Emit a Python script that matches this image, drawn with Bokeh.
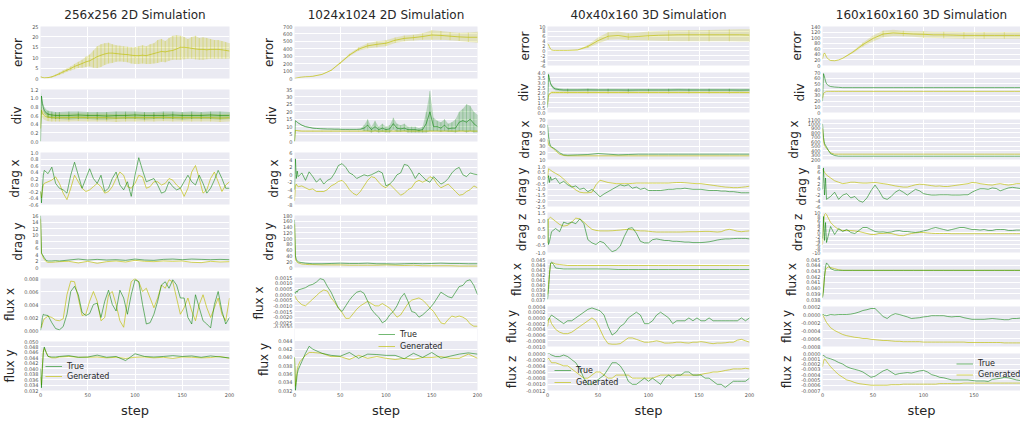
from bokeh.plotting import figure
from bokeh.models import Range1d, FixedTicker, PrintfTickFormatter, Legend, LegendItem, BoxAnnotation
from bokeh.layouts import row, column
from bokeh.core.properties import value
from bokeh.embed import file_html
from bokeh.resources import INLINE

# ---------------- step grids ----------------
XF = [0, 1, 2, 3] + list(range(4, 201, 4))                  # 54 steps (fine)
XC = [0, 1, 2, 3, 4, 6, 8, 12, 16] + list(range(20, 201, 10))  # 28 steps (coarse)
STEP_TICKS = [0, 50, 100, 150, 200]

TITLES = ["256x256 2D Simulation", "1024x1024 2D Simulation",
          "40x40x160 3D Simulation", "160x160x160 3D Simulation"]

# ---------------- column 1 : 256x256 2D ----------------
c1_err_ticks = [0, 5, 10, 15, 20, 25]
c1_err = [0.8, 0.7, 0.5, 0.4,
          0.3, 0.4, 0.8, 1.5, 2.3, 3.2, 4.0, 4.8, 5.8, 6.5,
          7.2, 8.0, 8.5, 9.5, 10.5, 11.2, 11.8, 12.2, 12.2, 12.0,
          11.8, 11.6, 11.5, 11.2, 11.0, 11.0, 11.2, 11.0, 11.5, 12.0,
          12.5, 13.0, 12.8, 13.2, 13.5, 14.2, 15.0, 15.0, 14.8, 14.5,
          14.2, 14.0, 14.0, 13.8, 14.0, 14.0, 14.0, 13.8, 13.5, 13.2]
c1_err_lo = [0.6, 0.5, 0.3, 0.2,
             0.1, 0.2, 0.5, 1.1, 1.7, 2.4, 3.2, 3.8, 4.5, 5.0,
             5.2, 5.5, 5.8, 5.2, 5.0, 5.5, 6.5, 7.2, 7.5, 8.0,
             8.2, 8.0, 7.8, 7.2, 7.0, 7.0, 7.2, 7.0, 7.0, 7.2,
             7.5, 8.0, 7.8, 8.5, 9.0, 9.0, 9.0, 9.2, 9.5, 9.5,
             9.2, 9.0, 9.0, 9.3, 9.5, 9.5, 9.5, 9.5, 9.5, 9.5]
c1_err_hi = [1.0, 0.9, 0.7, 0.6,
             0.5, 0.6, 1.1, 1.9, 2.9, 4.0, 4.8, 5.8, 7.0, 8.0,
             9.0, 10.5, 11.5, 13.5, 15.5, 16.5, 17.0, 17.2, 16.5, 16.0,
             15.8, 15.5, 15.3, 15.0, 15.0, 15.5, 16.0, 15.5, 16.5, 17.0,
             18.5, 19.0, 18.0, 19.5, 20.5, 20.8, 20.5, 20.0, 19.0, 20.0,
             20.5, 19.5, 19.8, 19.5, 19.0, 18.5, 18.5, 18.0, 17.5, 17.0]

c1_div_ticks = [0.0, 0.2, 0.4, 0.6, 0.8, 1.0, 1.2]
c1_div_true = [0.0, 1.05, 0.88, 0.78, 0.72, 0.66, 0.63, 0.61, 0.60,
               0.60, 0.60, 0.61, 0.60, 0.60, 0.59, 0.60, 0.60, 0.61, 0.60,
               0.60, 0.60, 0.61, 0.60, 0.60, 0.60, 0.61, 0.60, 0.60]
c1_div_true_lo = [0.0, 0.95, 0.80, 0.70, 0.64, 0.58, 0.55, 0.53, 0.52,
                  0.52, 0.51, 0.52, 0.52, 0.51, 0.51, 0.52, 0.52, 0.52, 0.51,
                  0.52, 0.52, 0.52, 0.51, 0.52, 0.52, 0.52, 0.51, 0.52]
c1_div_true_hi = [0.0, 1.15, 0.96, 0.86, 0.80, 0.74, 0.71, 0.69, 0.68,
                  0.68, 0.69, 0.69, 0.68, 0.68, 0.68, 0.69, 0.69, 0.69, 0.68,
                  0.68, 0.69, 0.69, 0.68, 0.69, 0.68, 0.69, 0.69, 0.68]
c1_div_gen = [0.30, 0.72, 0.66, 0.62, 0.60, 0.57, 0.56, 0.55, 0.55,
              0.55, 0.55, 0.56, 0.55, 0.55, 0.55, 0.54, 0.55, 0.55, 0.55,
              0.55, 0.56, 0.55, 0.55, 0.55, 0.55, 0.55, 0.54, 0.55]
c1_div_gen_lo = [0.20, 0.62, 0.56, 0.52, 0.50, 0.48, 0.47, 0.46, 0.46,
                 0.46, 0.46, 0.47, 0.46, 0.46, 0.46, 0.45, 0.46, 0.46, 0.46,
                 0.46, 0.47, 0.46, 0.46, 0.46, 0.46, 0.46, 0.45, 0.46]
c1_div_gen_hi = [0.40, 0.82, 0.76, 0.72, 0.70, 0.66, 0.65, 0.64, 0.64,
                 0.64, 0.64, 0.65, 0.64, 0.64, 0.64, 0.63, 0.64, 0.64, 0.64,
                 0.64, 0.65, 0.64, 0.64, 0.64, 0.64, 0.64, 0.63, 0.64]

c1_dragx_ticks = [-0.6, -0.4, -0.2, 0.0, 0.2, 0.4, 0.6, 0.8, 1.0]
c1_dragx_true = [-0.20, -0.55, -0.10, 0.30,
                 0.45, 0.35, 0.55, 0.05, -0.10, -0.15, -0.25, 0.30, 0.70, 0.30,
                 -0.10, 0.20, 0.50, 0.20, 0.05, 0.30, -0.20, -0.10, 0.20, 0.40,
                 0.00, -0.15, 0.10, -0.35, 0.30, 0.84, 0.45, 0.10, 0.15, 0.20,
                 0.00, -0.25, -0.20, 0.10, -0.05, -0.15, -0.10, 0.10, 0.30, 0.10,
                 0.00, 0.30, 0.05, -0.25, -0.10, 0.15, 0.45, 0.20, -0.10, -0.10]
c1_dragx_gen = [-0.20, -0.40, -0.15, 0.00,
                0.05, 0.10, 0.15, 0.25, 0.05, -0.25, -0.45, -0.10, 0.30, 0.10,
                -0.10, -0.20, -0.15, -0.05, 0.05, -0.05, -0.25, -0.20, -0.05, 0.20,
                0.40, 0.30, -0.05, -0.10, 0.05, 0.30, 0.25, -0.10, -0.05, 0.10,
                0.10, 0.00, 0.05, 0.20, 0.15, 0.00, -0.10, -0.35, -0.10, 0.40,
                0.60, 0.20, -0.25, -0.15, 0.20, 0.40, 0.10, -0.20, 0.00, 0.10]

c1_dragy_ticks = [0, 2, 4, 6, 8, 10, 12, 14, 16]
c1_dragy_true = [16.0, 4.5, 4.0, 3.5, 3.0, 2.2, 2.0, 2.0, 2.1,
                 2.0, 2.3, 2.6, 2.3, 2.5, 2.3, 2.4, 2.2, 2.6, 2.3,
                 2.2, 2.5, 2.6, 2.4, 2.6, 2.5, 2.4, 2.5, 2.4]
c1_dragy_gen = [15.0, 4.2, 3.8, 3.0, 2.5, 1.8, 1.6, 1.6, 1.7,
                1.8, 1.9, 1.4, 1.9, 1.3, 1.8, 2.0, 1.7, 2.2, 1.9,
                1.8, 2.0, 1.9, 2.0, 1.6, 1.5, 1.9, 1.7, 1.8]

c1_fluxx_ticks = [0.000, 0.002, 0.004, 0.006, 0.008]
c1_fluxx_true = [0.0000, 0.0008, 0.0020, 0.0025,
                 0.0024, 0.0023, 0.0012, 0.0003, 0.0001, 0.0006, 0.0025, 0.0060, 0.0068, 0.0055,
                 0.0028, 0.0023, 0.0026, 0.0040, 0.0042, 0.0020, 0.0045, 0.0062, 0.0040, 0.0030,
                 0.0062, 0.0050, 0.0025, 0.0055, 0.0078, 0.0075, 0.0040, 0.0010, 0.0012, 0.0025,
                 0.0045, 0.0070, 0.0075, 0.0065, 0.0078, 0.0070, 0.0050, 0.0050, 0.0020, 0.0010,
                 0.0055, 0.0035, 0.0015, 0.0010, 0.0004, 0.0040, 0.0060, 0.0030, 0.0010, 0.0020]
c1_fluxx_gen = [0.0005, 0.0005, 0.0010, 0.0015,
                0.0018, 0.0022, 0.0020, 0.0016, 0.0015, 0.0018, 0.0055, 0.0076, 0.0075, 0.0050,
                0.0023, 0.0025, 0.0045, 0.0060, 0.0045, 0.0015, 0.0020, 0.0055, 0.0060, 0.0040,
                0.0015, 0.0005, 0.0045, 0.0075, 0.0080, 0.0075, 0.0060, 0.0065, 0.0050, 0.0035,
                0.0050, 0.0070, 0.0065, 0.0078, 0.0075, 0.0050, 0.0025, 0.0035, 0.0050, 0.0030,
                0.0015, 0.0040, 0.0055, 0.0035, 0.0020, 0.0035, 0.0050, 0.0025, 0.0015, 0.0050]

c1_fluxy_ticks = [0.032, 0.034, 0.036, 0.038, 0.040, 0.042, 0.044, 0.046, 0.048, 0.050]
c1_fluxy_true = [0.0400, 0.0330, 0.0400, 0.0460, 0.0480, 0.0460, 0.0445, 0.0443, 0.0443,
                 0.0445, 0.0448, 0.0442, 0.0443, 0.0450, 0.0442, 0.0445, 0.0430, 0.0455, 0.0445,
                 0.0443, 0.0445, 0.0448, 0.0445, 0.0447, 0.0442, 0.0447, 0.0443, 0.0440]
c1_fluxy_gen = [0.0370, 0.0340, 0.0410, 0.0465, 0.0475, 0.0460, 0.0445, 0.0440, 0.0440,
                0.0443, 0.0445, 0.0442, 0.0442, 0.0443, 0.0440, 0.0442, 0.0438, 0.0442, 0.0443,
                0.0440, 0.0442, 0.0438, 0.0443, 0.0442, 0.0440, 0.0441, 0.0445, 0.0438]

# ---------------- column 2 : 1024x1024 2D ----------------
c2_err_ticks = [0, 100, 200, 300, 400, 500, 600, 700]
c2_err = [0, 3, 6, 9, 12, 16, 19, 24, 26,
          30, 55, 110, 210, 315, 395, 440, 460, 475, 515,
          540, 550, 565, 585, 580, 570, 560, 555, 555]
c2_err_lo = [0, 3, 6, 9, 12, 16, 19, 24, 26,
             28, 52, 104, 198, 298, 372, 405, 420, 435, 478,
             502, 512, 522, 522, 520, 515, 505, 492, 480]
c2_err_hi = [0, 3, 6, 9, 12, 16, 19, 24, 26,
             32, 58, 116, 222, 332, 418, 475, 500, 515, 552,
             578, 588, 608, 648, 640, 625, 615, 618, 630]

c2_div_ticks = [0, 5, 10, 15, 20, 25, 30, 35]
c2_div_true = [0.0, 14.0, 13.5, 13.0,
               12.5, 11.0, 10.0, 9.5, 9.0, 8.8, 8.6, 8.5, 8.4, 8.4,
               8.3, 8.3, 8.2, 8.2, 8.2, 8.2, 8.2, 8.3, 9.0, 11.0,
               8.0, 10.0, 8.0, 9.0, 8.0, 8.5, 12.0, 9.0, 8.5, 9.0,
               8.0, 8.0, 8.0, 7.5, 8.0, 12.0, 20.0, 10.0, 10.0, 9.0,
               11.0, 8.5, 9.0, 9.0, 13.0, 14.0, 13.0, 15.0, 12.0, 10.0]
c2_div_true_lo = [0.0, 13.8, 13.3, 12.8,
                  12.3, 10.8, 9.8, 9.3, 8.8, 8.6, 8.4, 8.3, 8.2, 8.2,
                  8.1, 8.1, 8.0, 8.0, 8.0, 8.0, 8.0, 8.1, 7.0, 7.0,
                  6.0, 7.0, 6.0, 6.5, 6.0, 6.0, 8.0, 6.5, 6.5, 7.0,
                  6.0, 6.0, 6.0, 6.0, 6.0, 6.0, 7.0, 7.0, 7.0, 6.5,
                  7.0, 6.5, 6.5, 6.0, 7.0, 7.0, 6.0, 7.0, 6.0, 6.0]
c2_div_true_hi = [0.0, 14.2, 13.7, 13.2,
                  12.7, 11.2, 10.2, 9.7, 9.2, 9.0, 8.8, 8.7, 8.6, 8.6,
                  8.5, 8.5, 8.4, 8.4, 8.4, 8.4, 8.4, 8.5, 11.0, 15.0,
                  10.0, 14.0, 10.0, 12.0, 10.0, 11.0, 16.0, 12.0, 11.0, 12.0,
                  10.0, 10.0, 10.0, 9.0, 10.0, 20.0, 34.0, 16.0, 14.0, 13.0,
                  15.0, 12.0, 13.0, 15.0, 20.0, 22.0, 25.0, 24.0, 20.0, 18.0]
c2_div_gen = [0.0, 7.5, 7.4, 7.3, 7.2, 7.1, 7.0, 7.0, 7.0,
              7.0, 7.0, 7.0, 7.0, 7.0, 7.0, 7.0, 7.0, 7.0, 7.0,
              7.0, 7.0, 7.0, 7.0, 7.0, 7.0, 7.0, 7.0, 7.0]
c2_div_gen_lo = [0.0, 7.2, 7.1, 7.0, 6.9, 6.8, 6.7, 6.7, 6.7,
                 6.7, 6.7, 6.7, 6.7, 6.7, 6.7, 6.7, 6.7, 6.7, 6.7,
                 6.7, 6.7, 6.7, 6.7, 6.7, 6.7, 6.7, 6.7, 6.7]
c2_div_gen_hi = [0.0, 7.8, 7.7, 7.6, 7.5, 7.4, 7.3, 7.3, 7.3,
                 7.3, 7.3, 7.3, 7.3, 7.3, 7.3, 7.3, 7.3, 7.3, 7.3,
                 7.3, 7.3, 7.3, 7.3, 7.3, 7.3, 7.3, 7.3, 7.3]

c2_dragx_ticks = [-8, -6, -4, -2, 0, 2, 4, 6]
c2_dragx_true = [-4.0, 4.3, -1.0, 1.0,
                 -0.5, 0.5, -1.5, 0.8, -0.5, -2.0, -1.0, -2.5, -1.5, -1.0,
                 0.5, 2.5, 3.0, 2.0, 0.5, 0.0, -1.0, -0.5, 0.0, -0.3,
                 0.0, 0.5, 1.0, 0.5, -3.0, -2.5, -1.5, 0.0, 0.5, 2.8,
                 2.5, 1.0, -1.0, 0.5, -0.5, -1.5, -2.0, -0.5, -1.5, -2.5,
                 -2.0, -1.0, 0.5, 1.5, 2.0, 0.0, -0.5, 0.5, 0.2, 0.0]
c2_dragx_gen = [-7.0, -3.0, -2.5, -3.0,
                -3.2, -3.0, -3.5, -4.0, -3.8, -4.5, -4.5, -4.5, -4.0, -3.0,
                -2.5, -1.8, -1.5, -2.5, -4.0, -5.0, -5.5, -4.5, -3.0, -1.5,
                -0.5, -0.8, -2.0, -3.0, -3.5, -2.5, -3.5, -4.5, -5.5, -5.0,
                -4.0, -3.5, -2.0, -1.5, -2.0, -1.5, -0.5, -1.0, -2.5, -3.5,
                -3.0, -2.5, -3.5, -4.5, -5.5, -5.3, -4.5, -4.0, -3.0, -3.5]

c2_dragy_ticks = [0, 20, 40, 60, 80, 100, 120, 140, 160, 180]
c2_dragy_true = [165, 40, 28, 22, 20, 18, 17, 15, 14,
                 13, 13, 14, 15, 14, 14, 15, 13, 13, 12,
                 13, 14, 13, 14, 15, 14, 14, 13, 13]
c2_dragy_gen = [150, 30, 22, 18, 16, 14, 12, 11, 10,
                10, 9, 9, 9, 8, 8, 8, 8, 9, 8,
                7, 8, 6, 6, 6, 6, 5, 5, 5]

c2_fluxx_ticks = [-0.0030, -0.0025, -0.0020, -0.0015, -0.0010, -0.0005, 0.0000, 0.0005, 0.0010, 0.0015]
c2_fluxx_true = [0.0002, 0.0001, 0.0003, 0.0002,
                 0.0004, 0.0005, 0.0006, 0.0008, 0.0009, 0.0011, 0.0014, 0.0013, 0.0007, 0.0002,
                 -0.0005, -0.0012, -0.0015, -0.0010, -0.0005, -0.0001, 0.0002, 0.0003, 0.0001, -0.0006,
                 -0.0013, -0.0017, -0.0020, -0.0025, -0.0023, -0.0018, -0.0015, -0.0010, -0.0003, 0.0001,
                 -0.0006, -0.0015, -0.0016, -0.0020, -0.0018, -0.0015, -0.0012, -0.0008, -0.0003, 0.0002,
                 0.0000, -0.0002, -0.0003, 0.0002, 0.0007, 0.0008, 0.0012, 0.0013, 0.0008, 0.0000]
c2_fluxx_gen = [-0.0001, -0.0002, -0.0004, -0.0005,
                -0.0006, -0.0009, -0.0010, -0.0007, -0.0004, -0.0001, 0.0002, 0.0004, 0.0003, -0.0003,
                -0.0007, -0.0012, -0.0016, -0.0021, -0.0021, -0.0017, -0.0013, -0.0010, -0.0008, -0.0006,
                -0.0008, -0.0010, -0.0010, -0.0008, -0.0010, -0.0012, -0.0016, -0.0020, -0.0018, -0.0013,
                -0.0008, -0.0005, -0.0004, -0.0003, -0.0005, -0.0008, -0.0012, -0.0015, -0.0020, -0.0025,
                -0.0026, -0.0022, -0.0019, -0.0020, -0.0019, -0.0020, -0.0022, -0.0026, -0.0028, -0.0028]

c2_fluxy_ticks = [0.032, 0.034, 0.036, 0.038, 0.040, 0.042, 0.044]
c2_fluxy_true = [0.0400, 0.0320, 0.0340, 0.0360, 0.0370, 0.0380, 0.0390, 0.0410, 0.0427,
                 0.0420, 0.0410, 0.0405, 0.0403, 0.0412, 0.0398, 0.0408, 0.0407, 0.0405, 0.0405,
                 0.0397, 0.0410, 0.0400, 0.0412, 0.0398, 0.0403, 0.0408, 0.0411, 0.0408]
c2_fluxy_gen = [0.0400, 0.0330, 0.0350, 0.0370, 0.0380, 0.0390, 0.0395, 0.0405, 0.0412,
                0.0412, 0.0410, 0.0402, 0.0402, 0.0395, 0.0405, 0.0398, 0.0402, 0.0398, 0.0395,
                0.0398, 0.0395, 0.0400, 0.0400, 0.0402, 0.0398, 0.0398, 0.0408, 0.0398]

# ---------------- column 3 : 40x40x160 3D ----------------
c3_err_ticks = [-6, -4, -2, 0, 2, 4, 6, 8, 10]
c3_err = [3.0, 2.5, 1.5, 0.8, 0.4, 0.2, 0.2, 0.2, 0.2,
          0.2, 0.4, 1.8, 4.2, 6.0, 6.3, 5.7, 5.9, 6.2, 6.4,
          6.5, 6.6, 6.6, 6.6, 6.6, 6.6, 6.6, 6.6, 6.5]
c3_err_lo = [3.0, 2.5, 1.5, 0.8, 0.4, 0.2, 0.2, 0.2, 0.2,
             0.2, 0.3, 1.2, 3.0, 4.6, 4.8, 4.5, 4.4, 4.3, 4.2,
             4.1, 4.0, 4.0, 4.0, 3.9, 3.9, 3.9, 3.8, 3.8]
c3_err_hi = [3.0, 2.5, 1.5, 0.8, 0.4, 0.2, 0.2, 0.2, 0.2,
             0.2, 0.5, 2.4, 5.5, 7.6, 8.0, 7.2, 7.5, 7.9, 8.2,
             8.4, 8.5, 8.5, 8.6, 8.6, 8.7, 8.8, 8.9, 8.9]

c3_div_ticks = [0.0, 0.5, 1.0, 1.5, 2.0, 2.5, 3.0, 3.5, 4.0]
c3_div_true = [0.5, 3.8, 3.3, 2.9, 2.7, 2.45, 2.35, 2.28, 2.25,
               2.25, 2.25, 2.26, 2.25, 2.25, 2.25, 2.24, 2.25, 2.25, 2.25,
               2.25, 2.26, 2.25, 2.25, 2.25, 2.25, 2.25, 2.24, 2.25]
c3_div_true_lo = [0.4, 3.6, 3.1, 2.75, 2.55, 2.3, 2.2, 2.14, 2.12,
                  2.12, 2.12, 2.13, 2.12, 2.12, 2.12, 2.11, 2.12, 2.12, 2.12,
                  2.12, 2.13, 2.12, 2.12, 2.12, 2.12, 2.12, 2.11, 2.12]
c3_div_true_hi = [0.6, 4.0, 3.5, 3.05, 2.85, 2.6, 2.5, 2.42, 2.38,
                  2.38, 2.38, 2.39, 2.38, 2.38, 2.38, 2.37, 2.38, 2.38, 2.38,
                  2.38, 2.39, 2.38, 2.38, 2.38, 2.38, 2.38, 2.37, 2.38]
c3_div_gen = [0.8, 1.7, 1.85, 1.95, 2.0, 2.0, 2.0, 2.0, 2.0,
              2.0, 2.0, 2.0, 2.0, 2.0, 2.0, 2.0, 2.0, 2.0, 2.0,
              2.0, 2.0, 2.0, 2.0, 2.0, 2.0, 2.0, 2.0, 2.0]
c3_div_gen_lo = [0.7, 1.6, 1.75, 1.85, 1.88, 1.88, 1.88, 1.88, 1.88,
                 1.88, 1.88, 1.88, 1.88, 1.88, 1.88, 1.88, 1.88, 1.88, 1.88,
                 1.88, 1.88, 1.88, 1.88, 1.88, 1.88, 1.88, 1.88, 1.88]
c3_div_gen_hi = [0.9, 1.8, 1.95, 2.05, 2.12, 2.12, 2.12, 2.12, 2.12,
                 2.12, 2.12, 2.12, 2.12, 2.12, 2.12, 2.12, 2.12, 2.12, 2.12,
                 2.12, 2.12, 2.12, 2.12, 2.12, 2.12, 2.12, 2.12, 2.12]

c3_dragx_ticks = [10, 20, 30, 40, 50, 60, 70]
c3_dragx_true = [62, 45, 35, 30, 29, 27, 25, 20, 17,
                 16.5, 17, 17.5, 19, 18, 17, 17.5, 18, 18, 18,
                 18, 18, 18, 18, 18, 18, 18, 18, 18]
c3_dragx_gen = [40, 33, 30, 29, 28, 26, 23, 18, 16,
                15.5, 15.5, 15.5, 15.5, 15.5, 15.5, 15.5, 15.5, 15.5, 15.5,
                15.5, 15.5, 15.5, 15.5, 15.5, 15.5, 15.5, 15.5, 15.5]

c3_dragy_ticks = [-2.5, -2.0, -1.5, -1.0, -0.5, 0.0, 0.5, 1.0]
c3_dragy_true = [-0.5, 0.2, -0.4, 0.1,
                 -0.2, 0.0, -0.5, -0.3, -0.6, -0.8, -0.7, -1.0, -0.9, -1.2,
                 -1.0, -1.3, -1.65, -1.4, -1.2, -1.0, -0.8, -0.6, -0.7, -0.6,
                 -0.9, -0.8, -1.0, -0.9, -1.1, -1.1, -1.1, -1.1, -1.05, -1.0,
                 -1.0, -0.95, -0.95, -0.9, -0.95, -1.0, -1.0, -1.0, -1.05, -1.1,
                 -1.1, -1.1, -1.15, -1.15, -1.2, -1.2, -1.25, -1.3, -1.3, -1.3]
c3_dragy_gen = [0.0, 0.8, 0.75, 0.7,
                0.6, 0.4, 0.2, -0.1, -0.45, -0.75, -1.05, -1.25, -1.3, -1.3,
                -1.25, -0.6, -0.2, -0.3, -0.4, -0.45, -0.5, -0.5, -0.5, -0.5,
                -0.48, -0.45, -0.45, -0.45, -0.45, -0.45, -0.45, -0.45, -0.45, -0.45,
                -0.42, -0.4, -0.4, -0.42, -0.45, -0.48, -0.5, -0.5, -0.55, -0.6,
                -0.65, -0.7, -0.75, -0.8, -0.82, -0.85, -0.85, -0.82, -0.78, -0.72]

c3_dragz_ticks = [-1.0, -0.5, 0.0, 0.5, 1.0, 1.5]
c3_dragz_true = [1.1, -0.5, -0.3, 0.0,
                 0.3, 0.5, 0.3, 0.9, 0.8, 0.9, 0.8, 1.1, 0.8, -0.2,
                 -0.4, -0.5, -0.3, -0.4, -0.7, -0.95, -0.85, -0.6, 0.0, 0.5,
                 0.55, 0.2, -0.3, -0.4, -0.4, -0.2, -0.15, -0.2, -0.25, -0.25,
                 -0.3, -0.3, -0.32, -0.35, -0.35, -0.38, -0.38, -0.38, -0.36, -0.33,
                 -0.28, -0.22, -0.18, -0.15, -0.15, -0.13, -0.12, -0.12, -0.12, -0.15]
c3_dragz_gen = [-0.4, 1.1, 1.15, 1.2,
                1.15, 0.95, 0.75, 0.65, 0.7, 0.9, 1.15, 1.1, 0.9, 0.65,
                0.45, 0.38, 0.35, 0.35, 0.35, 0.36, 0.38, 0.4, 0.43, 0.45,
                0.42, 0.38, 0.35, 0.35, 0.33, 0.3, 0.28, 0.28, 0.28, 0.28,
                0.28, 0.28, 0.28, 0.29, 0.3, 0.3, 0.3, 0.31, 0.32, 0.32,
                0.3, 0.28, 0.3, 0.4, 0.45, 0.4, 0.33, 0.3, 0.33, 0.35]

c3_fluxx_ticks = [0.037, 0.038, 0.039, 0.040, 0.041, 0.042, 0.043, 0.044, 0.045]
c3_fluxx_true = [0.0370, 0.0390, 0.0420, 0.0443, 0.0445, 0.0440, 0.0433, 0.0432, 0.0431,
                 0.0431, 0.0431, 0.0431, 0.0431, 0.0431, 0.0430, 0.0430, 0.0430, 0.0430, 0.0430,
                 0.0430, 0.0430, 0.0430, 0.0430, 0.0430, 0.0430, 0.0430, 0.0430, 0.0430]
c3_fluxx_gen = [0.0380, 0.0400, 0.0425, 0.0440, 0.0443, 0.0443, 0.0441, 0.0440, 0.0439,
                0.0438, 0.0438, 0.0438, 0.0438, 0.0438, 0.0438, 0.0438, 0.0438, 0.0438, 0.0438,
                0.0438, 0.0438, 0.0438, 0.0438, 0.0438, 0.0438, 0.0438, 0.0438, 0.0438]

c3_fluxy_ticks = [-0.0010, -0.0008, -0.0006, -0.0004, -0.0002, 0.0000, 0.0002, 0.0004]
c3_fluxy_true = [-0.00010, -0.00005, 0.00000, 0.00005,
                 0.00010, 0.00000, -0.00010, -0.00020, -0.00010, -0.00010, 0.00000, 0.00010, 0.00020, 0.00030,
                 0.00035, 0.00030, 0.00025, 0.00010, -0.00030, -0.00060, -0.00050, -0.00030, -0.00020, 0.00000,
                 0.00010, 0.00020, 0.00010, -0.00020, -0.00020, -0.00010, 0.00010, 0.00020, 0.00010, 0.00000,
                 -0.00020, -0.00010, -0.00010, -0.00010, 0.00000, -0.00010, 0.00000, -0.00010, -0.00010, 0.00000,
                 -0.00010, -0.00010, -0.00010, -0.00010, -0.00010, -0.00010, -0.00010, 0.00000, -0.00010, 0.00000]
c3_fluxy_gen = [-0.00030, -0.00010, 0.00000, -0.00010,
                -0.00020, -0.00040, -0.00050, -0.00055, -0.00055, -0.00050, -0.00040, -0.00030, -0.00020, -0.00010,
                0.00000, -0.00010, -0.00040, -0.00070, -0.00090, -0.00092, -0.00092, -0.00090, -0.00080, -0.00070,
                -0.00070, -0.00075, -0.00080, -0.00085, -0.00085, -0.00083, -0.00080, -0.00083, -0.00088, -0.00088,
                -0.00087, -0.00085, -0.00085, -0.00087, -0.00088, -0.00085, -0.00085, -0.00083, -0.00085, -0.00088,
                -0.00090, -0.00088, -0.00088, -0.00087, -0.00085, -0.00085, -0.00078, -0.00075, -0.00080, -0.00085]

c3_fluxz_ticks = [-0.0012, -0.0010, -0.0008, -0.0006, -0.0004, -0.0002, 0.0000]
c3_fluxz_true = [0.00000, 0.00000, 0.00000, -0.00003,
                 -0.00005, -0.00010, -0.00010, -0.00005, -0.00010, -0.00020, -0.00030, -0.00050, -0.00080, -0.00100,
                 -0.00100, -0.00090, -0.00080, -0.00070, -0.00050, -0.00030, -0.00030, -0.00040, -0.00060, -0.00090,
                 -0.00100, -0.00100, -0.00090, -0.00080, -0.00090, -0.00080, -0.00090, -0.00100, -0.00080, -0.00070,
                 -0.00080, -0.00070, -0.00070, -0.00060, -0.00060, -0.00070, -0.00070, -0.00070, -0.00080, -0.00080,
                 -0.00090, -0.00100, -0.00100, -0.00110, -0.00100, -0.00090, -0.00090, -0.00090, -0.00090, -0.00080]
c3_fluxz_gen = [-0.00020, -0.00015, -0.00020, -0.00025,
                -0.00030, -0.00030, -0.00035, -0.00040, -0.00040, -0.00050, -0.00060, -0.00070, -0.00080, -0.00080,
                -0.00070, -0.00060, -0.00060, -0.00070, -0.00080, -0.00080, -0.00070, -0.00070, -0.00070, -0.00070,
                -0.00080, -0.00080, -0.00080, -0.00080, -0.00080, -0.00080, -0.00075, -0.00070, -0.00070, -0.00070,
                -0.00070, -0.00070, -0.00070, -0.00070, -0.00070, -0.00070, -0.00070, -0.00068, -0.00065, -0.00063,
                -0.00060, -0.00060, -0.00058, -0.00055, -0.00053, -0.00050, -0.00050, -0.00050, -0.00048, -0.00050]

# ---------------- column 4 : 160x160x160 3D ----------------
c4_err_ticks = [0, 20, 40, 60, 80, 100, 120, 140]
c4_err = [24, 40, 45, 38, 30, 22, 18, 17, 20,
          26, 48, 75, 97, 113, 117, 115, 113, 112, 110,
          110, 109, 108, 108, 108, 108, 108, 108, 108]
c4_err_lo = [24, 40, 45, 38, 30, 22, 18, 17, 20,
             25, 44, 68, 86, 101, 106, 105, 103, 100, 99,
             98, 97, 96, 96, 96, 96, 96, 96, 96]
c4_err_hi = [24, 40, 45, 38, 30, 22, 18, 17, 20,
             27, 52, 82, 108, 125, 128, 125, 123, 123, 121,
             121, 121, 120, 120, 120, 120, 120, 120, 120]

c4_div_ticks = [0, 10, 20, 30, 40, 50, 60, 70]
c4_div_true = [20, 68, 62, 55, 50, 47, 45.5, 44.5, 44,
               43.5, 43.5, 43.5, 43.5, 43.5, 43.5, 43.5, 43.5, 43.5, 43.5,
               43.5, 43.5, 43.5, 43.5, 43.5, 43.5, 43.5, 43.5, 43.5]
c4_div_gen = [25, 33, 35, 36, 37, 37, 37, 37, 37,
              37, 37, 37, 37, 37, 37, 37, 37, 37, 37,
              37, 37, 37, 37, 37, 37, 37, 37, 37]

c4_dragx_ticks = [200, 300, 400, 500, 600, 700, 800, 900, 1000, 1100]
c4_dragx_true = [1000, 700, 560, 520, 480, 400, 330, 290, 275,
                 275, 275, 275, 275, 275, 275, 275, 275, 275, 275,
                 275, 275, 275, 275, 275, 275, 275, 275, 275]
c4_dragx_gen = [900, 620, 520, 480, 450, 400, 350, 320, 320,
                320, 320, 320, 320, 320, 320, 320, 320, 320, 320,
                320, 320, 320, 320, 320, 320, 320, 320, 320]

c4_dragy_ticks = [-6, -4, -2, 0, 2, 4, 6, 8]
c4_dragy_true = [0.0, 7.5, -2.0, 4.0,
                 -3.5, -2.5, -1.0, -3.5, -2.0, -1.5, -3.0, -2.5, -4.0, -4.5,
                 -3.0, -0.5, 1.5, -0.5, -3.0, -3.5, -2.5, -1.0, -0.2, -1.0,
                 -2.0, -1.0, 0.0, -0.5, -1.5, -1.8, -2.0, -2.0, -1.9, -1.9,
                 -1.9, -2.0, -2.0, -2.0, -1.9, -1.9, -1.0, -0.3, 0.2, 0.2,
                 0.0, 0.5, 0.3, -0.5, 0.0, 0.5, 0.7, 0.5, 0.3, 0.5]
c4_dragy_gen = [7.0, 6.5, 6.0, 5.5,
                5.0, 4.0, 3.0, 2.5, 2.0, 2.2, 2.5, 2.5, 2.3, 2.2,
                2.2, 2.3, 2.4, 2.2, 2.0, 1.8, 1.5, 1.2, 1.0, 0.8,
                0.8, 1.2, 1.6, 1.8, 1.7, 1.5, 1.3, 1.1, 1.2, 1.0,
                1.0, 1.2, 1.4, 1.6, 1.8, 2.0, 2.4, 2.3, 2.0, 1.8,
                1.6, 1.5, 1.8, 2.0, 1.7, 1.5, 1.7, 2.0, 2.0, 2.0]

c4_dragz_ticks = [-10, -8, -6, -4, -2, 0, 2, 4, 6, 8, 10]
c4_dragz_true = [-3.0, 8.0, -4.0, 5.0,
                 -5.0, 3.0, -1.0, 2.0, 0.5, 1.5, 0.0, -0.5, 1.0, 2.5,
                 2.5, 1.5, 0.5, 0.2, 0.3, 0.0, 0.2, 0.8, 1.0, 0.5,
                 0.5, 0.2, 0.0, 0.3, 0.8, 1.2, 2.0, 2.5, 2.0, 1.5,
                 1.0, 1.5, 2.0, 2.5, 2.5, 2.0, 1.5, 1.5, 1.2, 1.5,
                 1.0, 1.0, 1.5, 1.5, 1.5, 1.0, 1.0, 1.2, 1.2, 1.0]
c4_dragz_gen = [-6.0, 5.0, 9.0, 9.5,
                9.0, 5.0, 3.0, 1.5, 1.0, 1.0, 1.0, 0.8, 0.5, 0.0,
                -0.5, -1.0, -1.0, -0.5, -0.5, -0.3, -0.5, -1.0, -1.5, -1.6,
                -1.0, -0.5, -0.2, 0.0, 0.0, -0.2, -0.4, -0.5, -0.5, -0.5,
                -0.5, -0.6, -0.6, -0.6, -0.6, -0.6, -0.6, -0.6, -0.6, -0.6,
                -0.6, -0.6, -0.6, -0.6, -0.6, -0.6, -0.6, -0.6, -0.6, -0.6]

c4_fluxx_ticks = [0.038, 0.039, 0.040, 0.041, 0.042, 0.043, 0.044, 0.045]
c4_fluxx_true = [0.0383, 0.0395, 0.0420, 0.0438, 0.0444, 0.0440, 0.0434, 0.0431, 0.0431,
                 0.0431, 0.0431, 0.0431, 0.0431, 0.0431, 0.0431, 0.0431, 0.0431, 0.0431, 0.0431,
                 0.0431, 0.0431, 0.0431, 0.0431, 0.0431, 0.0431, 0.0431, 0.0431, 0.0431]
c4_fluxx_gen = [0.0385, 0.0400, 0.0420, 0.0432, 0.0435, 0.0437, 0.0436, 0.0434, 0.0432,
                0.0431, 0.0431, 0.0431, 0.0431, 0.0431, 0.0431, 0.0431, 0.0431, 0.0431, 0.0431,
                0.0431, 0.0431, 0.0431, 0.0431, 0.0431, 0.0431, 0.0431, 0.0431, 0.0431]

c4_fluxy_ticks = [-0.0008, -0.0006, -0.0004, -0.0002, 0.0000, 0.0002]
c4_fluxy_true = [0.00000, 0.00000, -0.00002, -0.00002,
                 -0.00003, 0.00000, -0.00001, 0.00000, 0.00000, 0.00000, 0.00001, 0.00003, 0.00006, 0.00010,
                 0.00012, 0.00015, 0.00015, 0.00005, -0.00005, -0.00010, -0.00002, 0.00002, 0.00000, -0.00003,
                 -0.00006, -0.00010, -0.00009, -0.00008, -0.00006, -0.00005, -0.00003, -0.00003, -0.00003, -0.00003,
                 -0.00005, -0.00006, -0.00005, -0.00005, -0.00008, -0.00010, -0.00012, -0.00012, -0.00012, -0.00012,
                 -0.00011, -0.00010, -0.00011, -0.00012, -0.00013, -0.00013, -0.00010, -0.00010, -0.00009, -0.00008]
c4_fluxy_gen = [0.00000, -0.00005, -0.00010, -0.00015,
                -0.00020, -0.00033, -0.00040, -0.00045, -0.00050, -0.00053, -0.00055, -0.00057, -0.00058, -0.00060,
                -0.00060, -0.00062, -0.00063, -0.00064, -0.00065, -0.00065, -0.00066, -0.00067, -0.00067, -0.00068,
                -0.00068, -0.00068, -0.00068, -0.00068, -0.00069, -0.00069, -0.00069, -0.00069, -0.00069, -0.00069,
                -0.00069, -0.00069, -0.00069, -0.00069, -0.00069, -0.00070, -0.00070, -0.00070, -0.00070, -0.00070,
                -0.00070, -0.00070, -0.00070, -0.00070, -0.00071, -0.00071, -0.00071, -0.00071, -0.00071, -0.00071]

c4_fluxz_ticks = [-0.0007, -0.0006, -0.0005, -0.0004, -0.0003, -0.0002, -0.0001, 0.0000]
c4_fluxz_true = [-0.00005, -0.00003, -0.00005, -0.00007,
                 -0.00008, -0.00010, -0.00013, -0.00017, -0.00020, -0.00025, -0.00028, -0.00030, -0.00032, -0.00035,
                 -0.00040, -0.00045, -0.00043, -0.00038, -0.00033, -0.00030, -0.00035, -0.00040, -0.00038, -0.00037,
                 -0.00036, -0.00037, -0.00035, -0.00033, -0.00032, -0.00035, -0.00040, -0.00042, -0.00045, -0.00046,
                 -0.00048, -0.00050, -0.00050, -0.00050, -0.00050, -0.00050, -0.00051, -0.00052, -0.00052, -0.00052,
                 -0.00053, -0.00049, -0.00048, -0.00047, -0.00045, -0.00046, -0.00048, -0.00050, -0.00051, -0.00052]
c4_fluxz_gen = [-0.00025, -0.00015, -0.00010, -0.00012,
                -0.00015, -0.00025, -0.00033, -0.00040, -0.00045, -0.00050, -0.00052, -0.00055, -0.00057, -0.00058,
                -0.00059, -0.00060, -0.00060, -0.00060, -0.00060, -0.00060, -0.00059, -0.00059, -0.00059, -0.00058,
                -0.00058, -0.00058, -0.00058, -0.00058, -0.00058, -0.00058, -0.00058, -0.00058, -0.00057, -0.00057,
                -0.00057, -0.00057, -0.00057, -0.00057, -0.00056, -0.00056, -0.00056, -0.00056, -0.00056, -0.00056,
                -0.00056, -0.00056, -0.00056, -0.00056, -0.00056, -0.00056, -0.00056, -0.00056, -0.00056, -0.00056]

# ---------------- styling / layout ----------------
FONT = "DejaVu Sans"
BG = "#EAEAF2"
GREEN = "#008000"
YELLOW = "#bfbf00"
TEXT = "#262626"
TICKTXT = "#555555"

# per column: width, min_border_left, min_border_right, x end
COLS = [dict(w=249, bl=40, br=20, xend=200),
        dict(w=253, bl=39, br=25, xend=200),
        dict(w=275, bl=39, br=28, xend=200),
        dict(w=243, bl=39, br=0, xend=196)]
# per column, per panel: (height, border top, border bottom)
HEIGHTS = [
    [(83, 26, 5), (63, 6, 5), (63, 6, 5), (63, 6, 5), (63, 6, 5), (85, 6, 27)],
    [(83, 26, 5), (63, 6, 5), (63, 6, 5), (63, 6, 5), (56, 5, 0), (92, 0, 27)],
    [(68, 25, 3), (47, 4, 3), (47, 4, 3), (47, 4, 3), (46, 3, 3), (47, 4, 3), (47, 4, 3), (71, 4, 27)],
    [(68, 25, 3), (47, 4, 3), (47, 4, 3), (47, 4, 3), (46, 3, 3), (47, 4, 3), (47, 4, 3), (71, 4, 27)],
]
# column 2, lowest panel: its frame starts 13 px above the drawn area (a blank
# strip that holds the upper legend row); the drawn area is 52 px tall
C2_STRIP, C2_DRAWN = 13, 52


def check(xs, ys):
    if len(xs) != len(ys):
        raise ValueError("length mismatch %d vs %d" % (len(xs), len(ys)))


def make_panel(ci, pi, ylabel, ticks, fmt, y_end=None):
    c = COLS[ci]
    n = len(HEIGHTS[ci])
    h, bt, bb = HEIGHTS[ci][pi]
    bottom = pi == n - 1
    p = figure(width=c["w"], height=h,
               x_range=Range1d(0, c["xend"]),
               y_range=Range1d(ticks[0], ticks[-1] if y_end is None else y_end),
               output_backend="svg", toolbar_location=None,
               x_axis_location="below" if bottom else None,
               min_border_left=c["bl"], min_border_right=c["br"],
               min_border_top=bt, min_border_bottom=bb,
               background_fill_color=BG, border_fill_color="white",
               outline_line_color=None,
               title=TITLES[ci] if pi == 0 else None)
    if pi == 0:
        p.title.align = "center"
        p.title.text_font = FONT
        p.title.text_font_size = "12px"
        p.title.text_font_style = "normal"
        p.title.text_color = TEXT
        p.title.standoff = 10
    p.xgrid.ticker = FixedTicker(ticks=STEP_TICKS)
    p.yaxis.ticker = FixedTicker(ticks=ticks)
    p.yaxis.formatter = PrintfTickFormatter(format=fmt)
    axes = list(p.yaxis) + (list(p.xaxis) if bottom else [])
    for ax in axes:
        ax.axis_line_color = None
        ax.major_tick_line_color = None
        ax.minor_tick_line_color = None
        ax.major_tick_out = 0
        ax.major_tick_in = 0
        ax.minor_tick_out = 0
        ax.minor_tick_in = 0
        ax.major_label_text_font = FONT
        ax.major_label_text_font_size = "5px"
        ax.major_label_text_color = TICKTXT
        ax.major_label_standoff = 2
        ax.axis_label_text_font = FONT
        ax.axis_label_text_font_style = "normal"
        ax.axis_label_text_color = TEXT
    p.yaxis.axis_label = ylabel
    p.yaxis.axis_label_text_font_size = "12px"
    p.yaxis.axis_label_standoff = 4
    if bottom:
        p.xaxis.ticker = FixedTicker(ticks=STEP_TICKS)
        p.xaxis.axis_label = "step"
        p.xaxis.axis_label_text_font_size = "13px"
        p.xaxis.axis_label_standoff = 3
    p.grid.grid_line_color = "white"
    p.grid.grid_line_width = 1
    return p


def band(p, xs, lo, hi, color, start=None, every=1, bar_alpha=0.3):
    check(xs, lo)
    check(xs, hi)
    p.varea(x=xs, y1=lo, y2=hi, fill_color=color, fill_alpha=0.22)
    if start is not None:
        idx = [i for i, s in enumerate(xs) if s >= start][::every]
        p.segment(x0=[xs[i] for i in idx], y0=[lo[i] for i in idx],
                  x1=[xs[i] for i in idx], y1=[hi[i] for i in idx],
                  line_color=color, line_alpha=bar_alpha, line_width=1)


def line(p, xs, ys, color):
    check(xs, ys)
    return p.line(xs, ys, line_color=color, line_width=1,
                  line_alpha=0.55 if color == GREEN else 0.65)


def make_legend(items, loc, lh):
    return Legend(items=[LegendItem(label=value(t), renderers=[r]) for t, r in items],
                  location=loc, background_fill_alpha=0, border_line_alpha=0,
                  padding=0, margin=0, spacing=0,
                  glyph_width=17, glyph_height=lh, label_height=lh,
                  label_standoff=5, label_text_font=FONT,
                  label_text_font_size="8px", label_text_color=TEXT)


def add_legend(p, r_true, r_gen, loc, lh):
    p.add_layout(make_legend([("True", r_true), ("Generated", r_gen)], loc, lh))


def pair_panel(ci, pi, label, ticks, fmt, xs, true, gen, y_end=None):
    p = make_panel(ci, pi, label, ticks, fmt, y_end)
    rg = line(p, xs, gen, YELLOW)
    rt = line(p, xs, true, GREEN)
    return p, rt, rg


columns = []

# ----- column 1 -----
figs = []
p = make_panel(0, 0, "error", c1_err_ticks, "%d")
band(p, XF, c1_err_lo, c1_err_hi, YELLOW, start=8, every=1)
line(p, XF, c1_err, YELLOW)
figs.append(p)
p = make_panel(0, 1, "div", c1_div_ticks, "%.1f")
band(p, XC, c1_div_gen_lo, c1_div_gen_hi, YELLOW, start=8)
band(p, XC, c1_div_true_lo, c1_div_true_hi, GREEN, start=8)
line(p, XC, c1_div_gen, YELLOW)
line(p, XC, c1_div_true, GREEN)
figs.append(p)
figs.append(pair_panel(0, 2, "drag x", c1_dragx_ticks, "%.1f", XF, c1_dragx_true, c1_dragx_gen)[0])
figs.append(pair_panel(0, 3, "drag y", c1_dragy_ticks, "%d", XC, c1_dragy_true, c1_dragy_gen)[0])
figs.append(pair_panel(0, 4, "flux x", c1_fluxx_ticks, "%.3f", XF, c1_fluxx_true, c1_fluxx_gen)[0])
p, rt, rg = pair_panel(0, 5, "flux y", c1_fluxy_ticks, "%.3f", XC, c1_fluxy_true, c1_fluxy_gen)
add_legend(p, rt, rg, (5, 9), 10)
figs.append(p)
columns.append(column(*figs, spacing=0))

# ----- column 2 -----
figs = []
p = make_panel(1, 0, "error", c2_err_ticks, "%d")
band(p, XC, c2_err_lo, c2_err_hi, YELLOW, start=40)
line(p, XC, c2_err, YELLOW)
figs.append(p)
p = make_panel(1, 1, "div", c2_div_ticks, "%d")
band(p, XC, c2_div_gen_lo, c2_div_gen_hi, YELLOW, start=20)
band(p, XF, c2_div_true_lo, c2_div_true_hi, GREEN, start=72, bar_alpha=0.2)
line(p, XC, c2_div_gen, YELLOW)
line(p, XF, c2_div_true, GREEN)
figs.append(p)
figs.append(pair_panel(1, 2, "drag x", c2_dragx_ticks, "%d", XF, c2_dragx_true, c2_dragx_gen)[0])
figs.append(pair_panel(1, 3, "drag y", c2_dragy_ticks, "%d", XC, c2_dragy_true, c2_dragy_gen)[0])
figs.append(pair_panel(1, 4, "flux x", c2_fluxx_ticks, "%.4f", XF, c2_fluxx_true, c2_fluxx_gen)[0])
lo_t, hi_t = c2_fluxy_ticks[0], c2_fluxy_ticks[-1]
y_end = hi_t + (hi_t - lo_t) * C2_STRIP / C2_DRAWN
p, rt, rg = pair_panel(1, 5, "flux y", c2_fluxy_ticks, "%.3f", XC, c2_fluxy_true, c2_fluxy_gen, y_end=y_end)
# blank strip above the drawn area, so the legend can reach up into the gap
p.add_layout(BoxAnnotation(bottom=hi_t, fill_color="white", fill_alpha=1.0, line_alpha=0))
add_legend(p, rt, rg, (84, C2_STRIP + C2_DRAWN - 27), 12)
figs.append(p)
columns.append(column(*figs, spacing=0))

# ----- column 3 -----
figs = []
p = make_panel(2, 0, "error", c3_err_ticks, "%d")
band(p, XC, c3_err_lo, c3_err_hi, YELLOW, start=40, every=2)
line(p, XC, c3_err, YELLOW)
figs.append(p)
p = make_panel(2, 1, "div", c3_div_ticks, "%.1f")
band(p, XC, c3_div_gen_lo, c3_div_gen_hi, YELLOW, start=20, every=2)
band(p, XC, c3_div_true_lo, c3_div_true_hi, GREEN, start=20, every=2)
line(p, XC, c3_div_gen, YELLOW)
line(p, XC, c3_div_true, GREEN)
figs.append(p)
figs.append(pair_panel(2, 2, "drag x", c3_dragx_ticks, "%d", XC, c3_dragx_true, c3_dragx_gen)[0])
figs.append(pair_panel(2, 3, "drag y", c3_dragy_ticks, "%.1f", XF, c3_dragy_true, c3_dragy_gen)[0])
figs.append(pair_panel(2, 4, "drag z", c3_dragz_ticks, "%.1f", XF, c3_dragz_true, c3_dragz_gen)[0])
figs.append(pair_panel(2, 5, "flux x", c3_fluxx_ticks, "%.3f", XC, c3_fluxx_true, c3_fluxx_gen)[0])
figs.append(pair_panel(2, 6, "flux y", c3_fluxy_ticks, "%.4f", XF, c3_fluxy_true, c3_fluxy_gen)[0])
p, rt, rg = pair_panel(2, 7, "flux z", c3_fluxz_ticks, "%.4f", XF, c3_fluxz_true, c3_fluxz_gen)
add_legend(p, rt, rg, (7, 2), 12)
figs.append(p)
columns.append(column(*figs, spacing=0))

# ----- column 4 -----
figs = []
p = make_panel(3, 0, "error", c4_err_ticks, "%d")
band(p, XC, c4_err_lo, c4_err_hi, YELLOW, start=40, every=2)
line(p, XC, c4_err, YELLOW)
figs.append(p)
figs.append(pair_panel(3, 1, "div", c4_div_ticks, "%d", XC, c4_div_true, c4_div_gen)[0])
figs.append(pair_panel(3, 2, "drag x", c4_dragx_ticks, "%d", XC, c4_dragx_true, c4_dragx_gen)[0])
figs.append(pair_panel(3, 3, "drag y", c4_dragy_ticks, "%d", XF, c4_dragy_true, c4_dragy_gen)[0])
figs.append(pair_panel(3, 4, "drag z", c4_dragz_ticks, "%d", XF, c4_dragz_true, c4_dragz_gen)[0])
figs.append(pair_panel(3, 5, "flux x", c4_fluxx_ticks, "%.3f", XC, c4_fluxx_true, c4_fluxx_gen)[0])
figs.append(pair_panel(3, 6, "flux y", c4_fluxy_ticks, "%.4f", XF, c4_fluxy_true, c4_fluxy_gen)[0])
p, rt, rg = pair_panel(3, 7, "flux z", c4_fluxz_ticks, "%.4f", XF, c4_fluxz_true, c4_fluxz_gen)
add_legend(p, rt, rg, (134, 10), 11)
figs.append(p)
columns.append(column(*figs, spacing=0))

layout = row(*columns, spacing=0)
open("out.html", "w").write(file_html(layout, INLINE))
